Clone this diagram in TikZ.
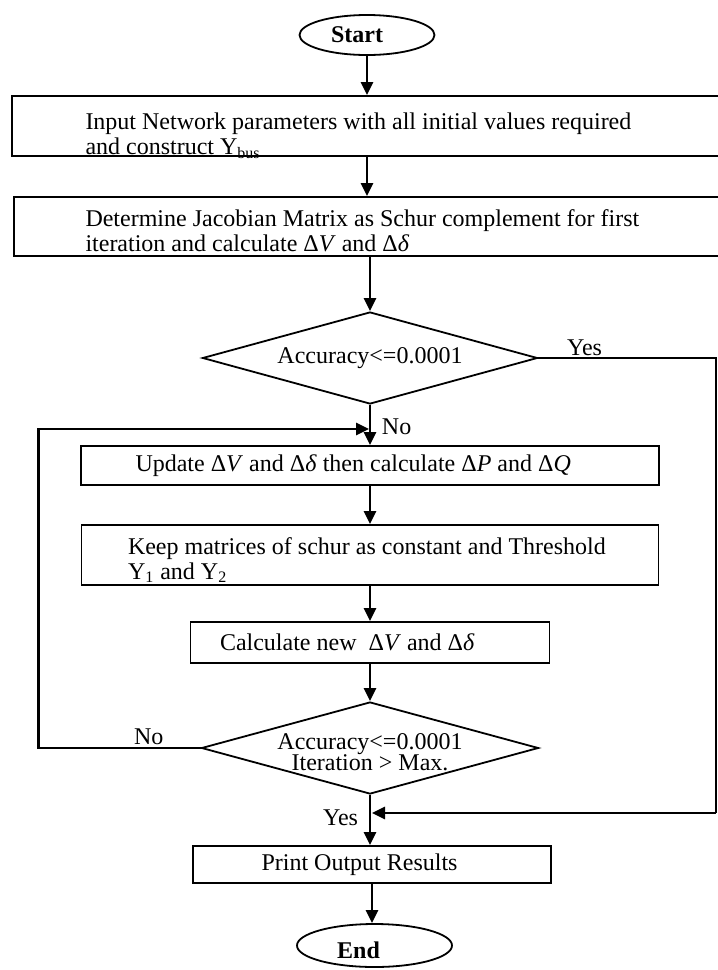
\documentclass[tikz,border=0pt]{standalone}
\usepackage{fontspec}
\setmainfont{Liberation Serif}
\usetikzlibrary{positioning, arrows.meta, shapes.geometric}

\begin{document}
\begin{tikzpicture}[x=0.5pt, y=-0.5pt,
  font=\fontsize{12}{12.5}\selectfont,
  flowbox/.style={draw, line width=0.9pt, rectangle, inner sep=0pt},
  flowtext/.style={align=left, inner sep=0pt},
  decision/.style={draw, line width=0.9pt, diamond, shape aspect=3.6, inner sep=0pt, align=center},
  terminal/.style={draw, line width=0.9pt, ellipse, inner sep=0pt},
  termtext/.style={inner sep=0pt, font=\fontsize{12}{12.5}\selectfont\bfseries},
  flowarrow/.style={line width=1.3pt, -{Triangle[length=6.5pt, width=6pt]}},
  flowline/.style={line width=0.8pt}]
\useasboundingbox (0,0) rectangle (718,970);

% Draw the blocks
\node[terminal, minimum width=67.5pt, minimum height=20pt] (start) at (367,35) {};
\node[termtext, xshift=-5pt] (starttxt) at (start.center) {Start};
\node[flowbox, minimum width=355pt, minimum height=30pt] (input) at (367,126) {};
\node[flowtext, right=37pt of input.west, yshift=-5pt] (inputtxt) {Input Network parameters with all initial values required\\and construct Y\textsubscript{bus}};
\node[flowbox, minimum width=354pt, minimum height=29.5pt] (jacob) at (368,226.5) {};
\node[flowtext, right=36pt of jacob.west, yshift=-2pt] (jacobtxt) {Determine Jacobian Matrix as Schur complement for first\\iteration and calculate Δ\textit{V} and Δ\textit{δ}};
\node[decision, minimum width=167.5pt, minimum height=46pt] (acc1) at (370,358) {Accuracy<=0.0001};
\node[flowbox, minimum width=289pt, minimum height=19.5pt] (update) at (370,465.5) {};
\node[flowtext, right=27.5pt of update.west] (updatetxt) {Update Δ\textit{V} and Δ\textit{δ} then calculate Δ\textit{P} and Δ\textit{Q}};
\node[flowbox, minimum width=288.5pt, minimum height=30pt] (keep) at (370,555) {};
\node[flowtext, right=23.5pt of keep.west, yshift=-2.5pt] (keeptxt) {Keep matrices of schur as constant and Threshold\\Y\textsubscript{1} and Y\textsubscript{2}};
\node[flowbox, minimum width=179.5pt, minimum height=20.5pt] (calc) at (370,642.5) {};
\node[flowtext, right=15pt of calc.west] (calctxt) {Calculate new \ Δ\textit{V} and Δ\textit{δ}};
\node[decision, minimum width=168.5pt, minimum height=46pt] (acc2) at (370,748) {};
\node[align=center, inner sep=0pt, yshift=-2pt] (acc2txt) at (acc2.center) {Accuracy<=0.0001\\[-2pt]Iteration > Max.};
\node[flowbox, minimum width=179pt, minimum height=18.5pt] (print) at (372,864.5) {};
\node[flowtext, right=34.5pt of print.west] (printtxt) {Print Output Results};
\node[terminal, minimum width=77.5pt, minimum height=21.5pt] (end) at (374.5,945.5) {};
\node[termtext, xshift=-8pt, yshift=-2.5pt] (endtxt) at (end.center) {End};

% Main flow
\draw[flowarrow] (start) -- (start |- input.north);
\draw[flowarrow] (start |- input.south) -- (start |- jacob.north);
\draw[flowarrow] (acc1 |- jacob.south) -- (acc1);
\draw[flowarrow] (acc1) -- node[right=2pt, pos=0.55] (nolbl1) {No} (update);
\draw[flowarrow] (update) -- (keep);
\draw[flowarrow] (keep) -- (calc);
\draw[flowarrow] (calc) -- (acc2);
\draw[flowarrow] (acc2) -- node[left=2pt, pos=0.46] (yeslbl2) {Yes} (acc2 |- print.north);
\draw[flowarrow] (print) -- (print |- end.north);

% Yes branch on the right
\coordinate (yescorner) at (716,813);
\coordinate (yesin) at (372,813);
\draw[flowline] (acc1.east) -- node[above, pos=0.26, inner sep=0.5pt] (yeslbl1) {Yes} (acc1.east -| yescorner) -- (yescorner);
\draw[flowarrow] (yescorner) -- (yesin);

% No loop on the left
\coordinate (loopin) at (369,429);
\draw[flowarrow] (acc2.west) -- node[above, pos=0.32, inner sep=1pt] (nolbl2) {No} ++(-162,0) |- (loopin);
\end{tikzpicture}
\end{document}
